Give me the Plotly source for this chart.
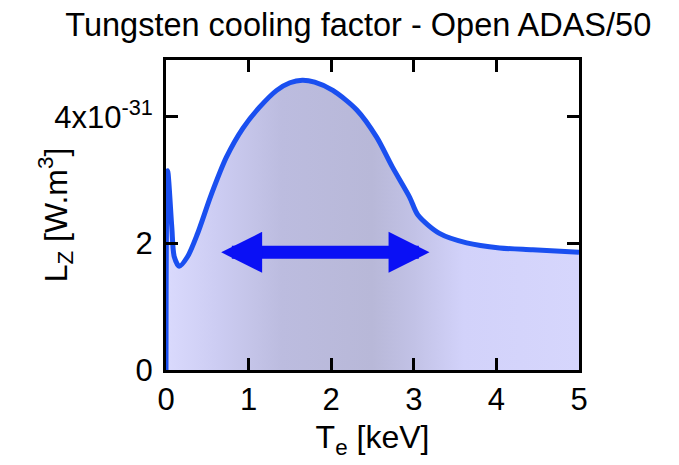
import plotly.graph_objects as go

# Data (Te in keV, Lz in units of 1e-31 W.m^3)
te_kev = [0.0, 0.02, 0.07, 0.10, 0.16, 0.26, 0.38, 0.55, 0.73, 0.93, 1.13, 1.34,
          1.50, 1.65, 1.80, 2.02, 2.31, 2.55, 2.74, 2.95, 3.05, 3.31, 3.64, 4.04,
          4.44, 5.0]
lz = [0.0, 3.15, 2.26, 1.79, 1.64, 1.79, 2.15, 2.78, 3.36, 3.82, 4.15, 4.42,
      4.54, 4.58, 4.55, 4.42, 4.11, 3.68, 3.21, 2.73, 2.45, 2.16, 2.01, 1.93,
      1.90, 1.86]

x_ticks = [0, 1, 2, 3, 4, 5]
y_ticks = [0, 2, 4]
y_ticktext = ["0", "2", "4x10<sup>-31</sup>"]

# Double arrow: range of interest
arrow_from = 0.65
arrow_to = 3.19
arrow_y = 1.86

font_family = "Liberation Sans, Arial, sans-serif"

fig = go.Figure()
fig.add_trace(go.Scatter(
    x=te_kev, y=lz,
    mode="lines",
    line=dict(color="#1a4ff0", width=5, shape="spline", smoothing=0.8),
    fill="tozeroy",
    fillgradient=dict(
        type="horizontal",
        colorscale=[[0.0, "#dadafd"], [0.12, "#cdcdf3"], [0.28, "#bcbcdf"],
                    [0.5, "#b8b8d8"], [0.6, "#c2c2e6"], [0.72, "#d2d2fa"],
                    [1.0, "#d6d6fc"]],
    ),
    hoverinfo="skip",
    showlegend=False,
))

fig.add_annotation(
    x=arrow_to, y=arrow_y, ax=arrow_from, ay=arrow_y,
    xref="x", yref="y", axref="x", ayref="y",
    text="", showarrow=True,
    arrowside="end+start",
    arrowhead=2, startarrowhead=2,
    arrowsize=0.63, startarrowsize=0.63,
    arrowwidth=13, arrowcolor="#0a10f5",
)

# y-axis title placed as a rotated annotation
fig.add_annotation(
    x=-0.268, y=0.5, xref="paper", yref="paper",
    text="L<sub>Z</sub> [W.m<sup>3</sup>]", textangle=-90,
    showarrow=False, xanchor="center", yanchor="middle",
    font=dict(family=font_family, size=32, color="black"),
)

axis_common = dict(
    showgrid=False, zeroline=False, automargin=False,
    showline=True, linecolor="black", linewidth=3,
    mirror="ticks", ticks="inside", ticklen=12, tickwidth=3, tickcolor="black",
    tickfont=dict(family=font_family, size=31, color="black"),
)

fig.update_layout(
    width=671, height=457,
    paper_bgcolor="white", plot_bgcolor="white",
    margin=dict(l=158, r=100, t=52, b=95, autoexpand=False),
    title=dict(
        text="Tungsten cooling factor - Open ADAS/50",
        x=0.522, xanchor="center", y=0.963, yanchor="middle",
        automargin=False,
        font=dict(family=font_family, size=32.5, color="black"),
    ),
    xaxis=dict(
        range=[0, 5], tickvals=x_ticks, ticktext=[str(v) for v in x_ticks],
        title=dict(text="T<sub>e</sub> [keV]", standoff=10,
                   font=dict(family=font_family, size=32, color="black")),
        **axis_common,
    ),
    yaxis=dict(
        range=[0, 4.9], tickvals=y_ticks, ticktext=y_ticktext,
        ticklabelstandoff=4,
        **axis_common,
    ),
)

fig.write_html("out.html")
